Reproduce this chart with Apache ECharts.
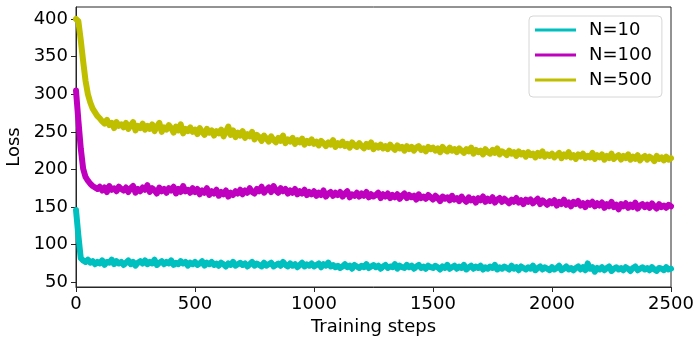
<!DOCTYPE html>
<html>
  <head>
    <meta charset="utf-8" />
    <title>Loss vs training steps</title>
    <style>
      html, body { margin: 0; padding: 0; background: #ffffff; }
      #lossChart { width: 694px; height: 337px; }
    </style>
  </head>
  <body>
    <div id="lossChart"></div>
  </body>
  <script src="https://cdn.jsdelivr.net/npm/echarts@6/dist/echarts.min.js"></script>
  <script>
    // one value every 10 training steps (0 .. 2500)
    var stepSize = 10;
    var seriesNames = ['N=10', 'N=100', 'N=500'];
    var seriesColors = ['#00bfbf', '#bf00bf', '#bfbf00'];
    var yTicks = [50, 100, 150, 200, 250, 300, 350, 400];
    var xTicks = [0, 500, 1000, 1500, 2000, 2500];

    var lossN10 = [
      146, 112, 82, 79, 77, 80, 76, 78, 74, 77,
      75, 79, 73, 77, 76, 80, 74, 78, 75, 77,
      73, 76, 79, 74, 77, 72, 76, 78, 75, 79,
      74, 77, 75, 80, 73, 76, 78, 74, 77, 75,
      79, 73, 76, 74, 78, 75, 77, 72, 76, 74,
      77, 73, 75, 78, 72, 76, 74, 77, 73, 75,
      72, 76, 74, 71, 75, 73, 77, 72, 74, 76,
      73, 75, 71, 74, 77, 72, 75, 73, 71, 76,
      72, 74, 76, 71, 73, 75, 72, 77, 73, 71,
      75, 72, 74, 70, 73, 76, 71, 74, 72, 75,
      71, 73, 75, 70, 74, 72, 76, 71, 73, 70,
      72, 69, 71, 74, 70, 72, 68, 73, 71, 69,
      72, 70, 74, 69, 71, 73, 70, 72, 68, 71,
      73, 69, 71, 70, 74, 68, 72, 70, 69, 73,
      70, 72, 68, 71, 73, 69, 71, 68, 72, 70,
      69, 72, 70, 67, 71, 69, 73, 68, 70, 72,
      68, 71, 69, 73, 67, 70, 72, 68, 71, 69,
      72, 67, 70, 68, 71, 69, 73, 67, 70, 68,
      71, 69, 67, 72, 68, 70, 66, 71, 69, 67,
      70, 68, 72, 66, 69, 71, 67, 70, 68, 66,
      70, 67, 69, 72, 66, 68, 71, 67, 69, 66,
      69, 71, 67, 70, 66, 75, 68, 70, 64, 69,
      67, 70, 66, 69, 71, 65, 68, 70, 67, 69,
      66, 70, 68, 65, 69, 71, 66, 68, 70, 67,
      69, 66, 70, 67, 65, 69, 68, 66, 70, 67, 68
    ];
    var lossN100 = [
      305, 265, 228, 201, 190, 185, 181, 178, 176, 174,
      177, 172, 176, 170, 178, 173, 175, 171, 177, 174,
      172, 176, 170, 175, 178, 169, 174, 171, 176, 173,
      179, 170, 175, 172, 168, 176, 171, 174, 169, 175,
      172, 177, 168, 174, 170, 178, 171, 173, 169, 175,
      170, 174, 167, 172, 169, 175, 166, 171, 168, 173,
      165, 170, 167, 172, 164, 169, 166, 171, 168, 173,
      167, 172, 169, 175, 170, 168, 174, 171, 177, 169,
      173, 176, 170, 178, 172, 169, 175, 171, 174, 168,
      172, 169, 174, 167, 171, 168, 173, 166, 170, 167,
      171, 165, 169, 166, 172, 164, 168, 170, 165, 169,
      166, 170, 164, 168, 171, 163, 167, 165, 169, 164,
      168, 165, 170, 163, 167, 164, 166, 169, 162, 167,
      164, 168, 162, 166, 163, 167, 161, 165, 168, 162,
      166, 163, 165, 160, 167, 162, 164, 161, 166, 163,
      160, 165, 162, 158, 164, 161, 163, 159, 165, 160,
      162, 158, 164, 160, 157, 163, 159, 161, 156, 162,
      159, 164, 157, 161, 158, 163, 156, 160, 162, 157,
      161, 158, 155, 160, 157, 162, 156, 159, 154, 160,
      157, 160, 155, 158, 161, 154, 159, 156, 153, 158,
      155, 159, 152, 157, 154, 160, 153, 156, 151, 157,
      154, 158, 152, 155, 150, 156, 153, 157, 151, 155,
      152, 156, 149, 154, 151, 157, 150, 153, 147, 154,
      151, 155, 149, 153, 150, 156, 148, 152, 154, 150,
      153, 149, 155, 151, 148, 154, 150, 152, 149, 153, 151
    ];
    var lossN500 = [
      400, 397, 372, 344, 318, 300, 289, 281, 276, 271,
      268, 264, 261, 266, 259, 262, 255, 263, 258, 260,
      256, 262, 254, 259, 263, 252, 258, 255, 261, 253,
      258, 254, 260, 251, 257, 262, 250, 256, 253, 259,
      255, 249, 257, 252, 260, 248, 254, 251, 256, 250,
      253, 247, 255, 250, 246, 254, 249, 252, 245, 251,
      248, 253, 244, 250, 257, 246, 252, 243, 249, 245,
      251, 242, 247, 244, 250, 240, 246, 243, 238, 245,
      241, 237, 244, 239, 236, 242, 238, 245, 235, 240,
      237, 242, 234, 239, 236, 241, 233, 238, 235, 240,
      234, 237, 232, 238, 235, 231, 236, 233, 239, 230,
      235, 232, 237, 231, 234, 229, 236, 232, 230, 235,
      231, 228, 234, 230, 236, 227, 232, 229, 233, 228,
      231, 227, 233, 229, 226, 232, 228, 230, 225, 231,
      227, 230, 225, 229, 231, 226, 228, 224, 230, 227,
      229, 225, 228, 223, 230, 226, 224, 229, 225, 227,
      223, 228, 225, 222, 227, 224, 229, 221, 226, 223,
      225, 220, 227, 223, 221, 226, 222, 228, 220, 224,
      222, 219, 225, 221, 223, 218, 224, 220, 222, 217,
      223, 219, 221, 216, 222, 218, 224, 217, 220, 218,
      221, 216, 219, 222, 215, 220, 217, 223, 216, 219,
      214, 220, 217, 221, 215, 218, 216, 222, 214, 219,
      216, 220, 213, 218, 215, 221, 214, 217, 219, 213,
      218, 215, 220, 213, 217, 214, 219, 212, 216, 218,
      213, 217, 215, 211, 218, 214, 216, 212, 217, 213, 215
    ];

    var _font = 'DejaVu Sans';
    var _fontSize = 18;

    function toPairs(arr) {
      var out = [];
      for (var i = 0; i < arr.length; i++) {
        out.push([i * stepSize, arr[i]]);
      }
      return out;
    }

    var allLoss = [lossN10, lossN100, lossN500];
    var series = [];
    for (var k = 0; k < allLoss.length; k++) {
      series.push({
        name: seriesNames[k],
        type: 'line',
        showSymbol: false,
        symbol: 'none',
        sampling: null,
        lineStyle: { width: 6, color: seriesColors[k], join: 'round', cap: 'round' },
        itemStyle: { color: seriesColors[k] },
        data: toPairs(allLoss[k])
      });
    }

    var myChart = echarts.init(document.getElementById('lossChart'), null, { renderer: 'canvas' });
    var option = {
      animation: false,
      backgroundColor: '#ffffff',
      textStyle: { fontFamily: _font },
      grid: {
        left: 76,
        right: 23,
        top: 7,
        bottom: 50,
        show: true,
        borderWidth: 1,
        borderColor: '#262626',
        containLabel: false,
        outerBoundsMode: 'none'
      },
      legend: {
        data: seriesNames,
        orient: 'vertical',
        left: 529,
        top: 16,
        padding: [5, 10, 8, 6],
        itemGap: 7,
        itemWidth: 41,
        itemHeight: 3,
        icon: 'rect',
        backgroundColor: '#ffffff',
        borderColor: '#d6d6d6',
        borderWidth: 1,
        borderRadius: 4,
        textStyle: {
          fontFamily: _font,
          fontSize: _fontSize,
          color: '#000',
          padding: [0, 0, 0, 8]
        }
      },
      xAxis: {
        type: 'value',
        min: 0,
        max: 2500,
        interval: 500,
        name: 'Training steps',
        nameLocation: 'middle',
        nameGap: 31,
        nameMoveOverlap: false,
        nameTextStyle: { fontFamily: _font, fontSize: _fontSize, color: '#000' },
        axisLine: { show: true, lineStyle: { color: '#262626', width: 1 } },
        axisTick: { show: true, length: 5, lineStyle: { color: '#262626' }, customValues: xTicks },
        axisLabel: {
          margin: 8, fontFamily: _font, fontSize: _fontSize, color: '#000', customValues: xTicks,
          formatter: function (v) { return String(v); }
        },
        splitLine: { show: false }
      },
      yAxis: {
        type: 'value',
        min: 43.7,
        max: 416,
        name: 'Loss',
        nameLocation: 'middle',
        nameGap: 53,
        nameMoveOverlap: false,
        nameTextStyle: { fontFamily: _font, fontSize: _fontSize, color: '#000' },
        axisLine: { show: true, lineStyle: { color: '#262626', width: 1 } },
        axisTick: { show: true, length: 5, lineStyle: { color: '#262626' }, customValues: yTicks },
        axisLabel: { margin: 8, fontFamily: _font, fontSize: _fontSize, color: '#000', customValues: yTicks },
        splitLine: { show: false }
      },
      series: series
    };
    myChart.setOption(option);
  </script>
</html>
